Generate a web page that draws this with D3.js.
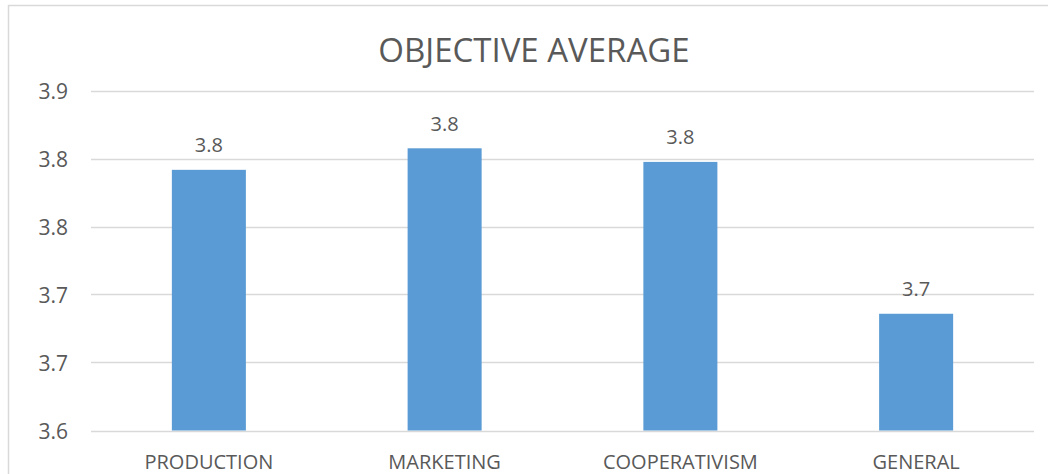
<!DOCTYPE html>
<html>
<head>
<meta charset="utf-8">
<script src="https://cdn.jsdelivr.net/npm/d3@7"></script>
<style>
  html, body { margin: 0; padding: 0; background: #fff; }
  svg { display: block; font-family: "Open Sans", sans-serif; }
</style>
</head>
<body>
<svg id="chart" width="1048" height="474"></svg>
<script>
// Average score per objective
const categories = ["PRODUCTION", "MARKETING", "COOPERATIVISM", "GENERAL"];
const averages = [3.830, 3.849, 3.837, 3.703];
const tickValues = [3.60, 3.66, 3.72, 3.78, 3.84, 3.90];
const title = "OBJECTIVE AVERAGE";

const svg = d3.select("#chart");
const textColor = "#595959";
const gridColor = "#D9D9D9";
const barColor = "#5B9BD5";

const plot = { left: 91, right: 1034, top: 90.5, bottom: 430.5 };

// Chart frame (top and left edges visible)
svg.append("path")
  .attr("d", "M8.5,480 L8.5,5.5 L1060,5.5")
  .attr("fill", "none")
  .attr("stroke", gridColor)
  .attr("stroke-width", 1.5);

const x = d3.scaleBand()
  .domain(categories)
  .range([plot.left, plot.right])
  .paddingInner(0.686)
  .paddingOuter(0.343);

const y = d3.scaleLinear()
  .domain([3.6, 3.9])
  .range([plot.bottom, plot.top]);

const fmt = d3.format(".1f");

// Gridlines
svg.append("g")
  .selectAll("line")
  .data(tickValues)
  .join("line")
  .attr("x1", plot.left)
  .attr("x2", plot.right)
  .attr("y1", d => Math.round(y(d)) + 0.5)
  .attr("y2", d => Math.round(y(d)) + 0.5)
  .attr("stroke", gridColor)
  .attr("stroke-width", 1.3);

// Y axis labels
const yAxis = d3.axisLeft(y)
  .tickValues(tickValues)
  .tickFormat(fmt)
  .tickSize(0)
  .tickPadding(0);
const yg = svg.append("g")
  .attr("transform", "translate(68,0)")
  .call(yAxis);
yg.select(".domain").remove();
yg.selectAll("text")
  .attr("fill", textColor)
  .attr("font-size", 21)
  .attr("dy", "0.36em")
  .style("font-family", "'Open Sans', sans-serif");

// Category labels
const xAxis = d3.axisBottom(x).tickSize(0).tickPadding(0);
const xg = svg.append("g")
  .attr("transform", `translate(0,${plot.bottom})`)
  .call(xAxis);
xg.select(".domain").remove();
xg.selectAll("text")
  .attr("fill", textColor)
  .attr("font-size", 20)
  .attr("dy", 0)
  .attr("y", 38.5)
  .style("font-family", "'Open Sans', sans-serif");

// Bars
svg.append("g")
  .selectAll("rect")
  .data(categories)
  .join("rect")
  .attr("x", d => x(d))
  .attr("width", x.bandwidth())
  .attr("y", (d, i) => y(averages[i]))
  .attr("height", (d, i) => plot.bottom - y(averages[i]))
  .attr("fill", barColor);

// Value labels
svg.append("g")
  .selectAll("text")
  .data(categories)
  .join("text")
  .attr("x", d => x(d) + x.bandwidth() / 2)
  .attr("y", (d, i) => y(averages[i]) - 17.5)
  .attr("text-anchor", "middle")
  .attr("fill", textColor)
  .attr("font-size", 20)
  .text((d, i) => fmt(averages[i]));

// Title
svg.append("text")
  .attr("x", 534)
  .attr("y", 61.5)
  .attr("text-anchor", "middle")
  .attr("fill", textColor)
  .attr("font-size", 33)
  .text(title);
</script>
</body>
</html>
